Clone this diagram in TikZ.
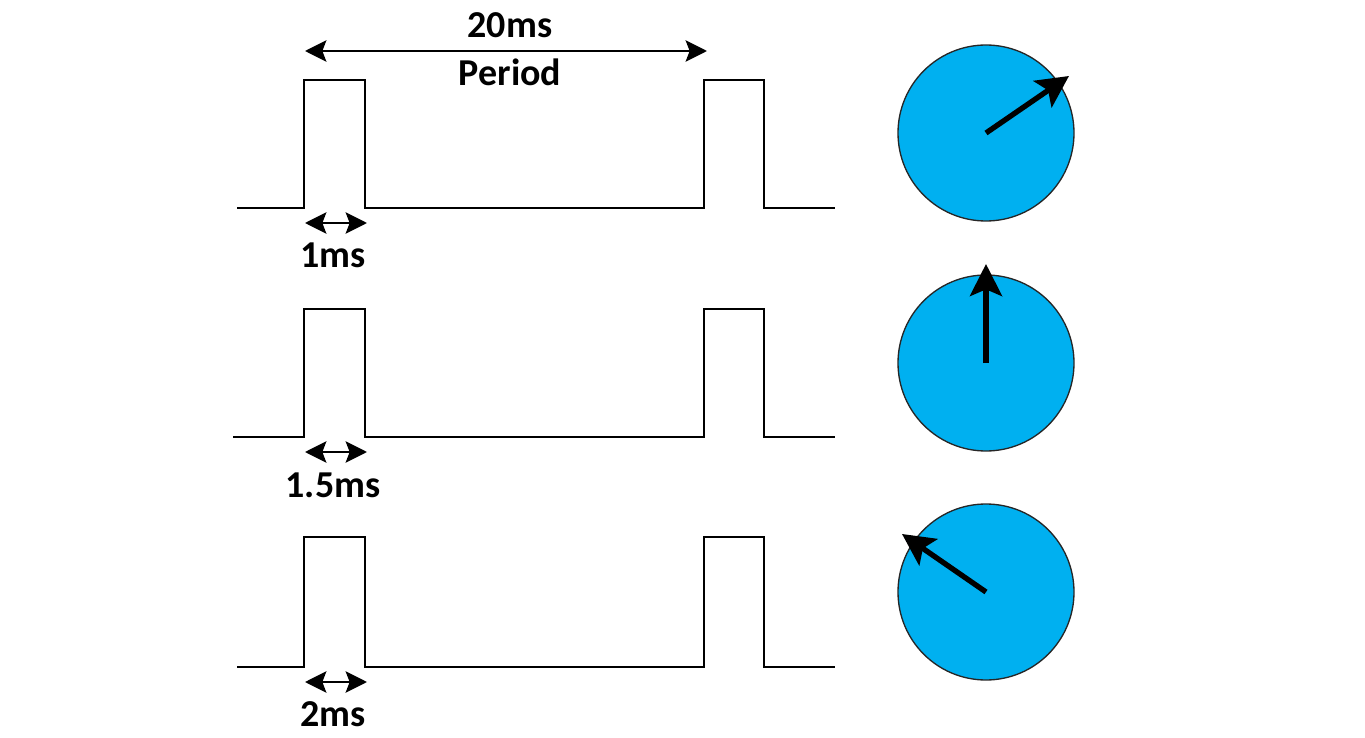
\documentclass[tikz,border=0pt]{standalone}
\usepackage{fontspec}
\setmainfont{Carlito}
\usetikzlibrary{arrows.meta}
\definecolor{dialblue}{RGB}{0,176,240}
\begin{document}
\begin{tikzpicture}[x=0.75pt,y=-0.75pt,
  wave/.style={line width=2pt,line join=miter},
  dim/.style={line width=2pt,{Stealth[length=16pt,width=16pt,inset=3pt]}-{Stealth[length=16pt,width=16pt,inset=3pt]}},
  lbl/.style={font=\bfseries\fontsize{28.5}{32}\selectfont,inner sep=0pt},
  dial/.style={circle,draw=black!85,line width=1pt,fill=dialblue,minimum size=132pt,inner sep=0pt},
  needle/.style={line width=4pt,-{Stealth[length=24pt,width=24pt,inset=5pt]}}]
\useasboundingbox (0,0) rectangle (1365,738);
% rows
\foreach \r/\b/\h/\s in {1/208/80/237, 2/437/309/233, 3/667/537/237}{
  \coordinate (s\r) at (\s,\b);
  \coordinate (e\r) at (835,\b);
  \draw[wave] (s\r) -- (304,\b) -- (304,\h) -- (365,\h) -- (365,\b) -- (704,\b) -- (704,\h) -- (764,\h) -- (764,\b) -- (e\r);
  \coordinate (wl\r) at (305,\b+15);
  \coordinate (wr\r) at (367,\b+15);
  \draw[dim] (wl\r) -- (wr\r);
}
\coordinate (pl) at (305,51);
\coordinate (pr) at (707,51);
\draw[dim] (pl) -- (pr);
\node[lbl] (t20) at (510,25) {20ms};
\node[lbl] (tper) at (510,72) {Period};
\node[lbl] (t1) at (333,255) {1ms};
\node[lbl] (t15) at (333,485) {1.5ms};
\node[lbl] (t2) at (333,714) {2ms};
% dials
\node[dial] (d1) at (986,133) {};
\node[dial] (d2) at (986,363) {};
\node[dial] (d3) at (986,592) {};
\coordinate (n1) at (1069,76);
\coordinate (n2) at (986,264);
\coordinate (n3) at (902,534);
\draw[needle] (d1.center) -- (n1);
\draw[needle] (d2.center) -- (n2);
\draw[needle] (d3.center) -- (n3);
\end{tikzpicture}
\end{document}
